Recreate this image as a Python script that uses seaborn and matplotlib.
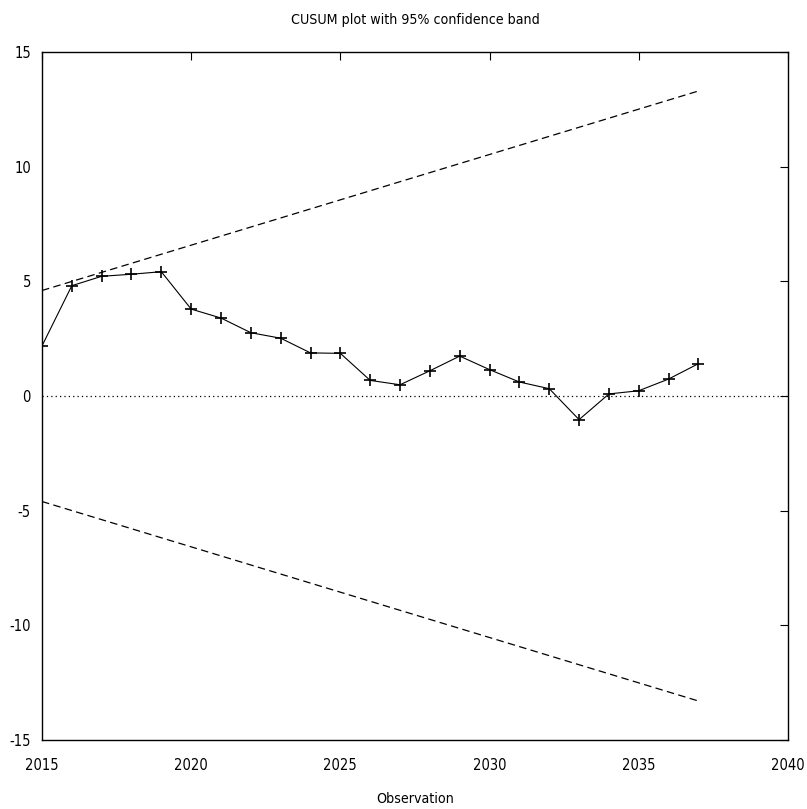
import numpy as np
import pandas as pd
import seaborn as sns
import matplotlib.pyplot as plt

# CUSUM values
years = list(range(2015, 2038))
cusum = [2.18, 4.81, 5.22, 5.31, 5.42, 3.79, 3.40, 2.76, 2.52, 1.88, 1.86,
         0.68, 0.49, 1.10, 1.74, 1.15, 0.61, 0.32, -1.03, 0.09, 0.23, 0.74, 1.41]

# 95% band end points
band_years = [2015, 2037]
band_upper = [4.6, 13.3]
band_lower = [-4.6, -13.3]

sns.set_theme(style="white")
plt.rcParams['font.family'] = ['DejaVu Sans']
plt.rcParams['font.stretch'] = 'condensed'
plt.rcParams['axes.unicode_minus'] = False
plt.rcParams['text.color'] = 'black'
plt.rcParams['axes.labelcolor'] = 'black'

df = pd.DataFrame({'Observation': years, 'CUSUM': cusum})
band = pd.DataFrame({'Observation': band_years, 'upper': band_upper, 'lower': band_lower})

fig = plt.figure(figsize=(8.07, 8.09), dpi=100)
ax = fig.add_axes([0.052, 0.0853, 0.9244, 0.8504])

sns.lineplot(data=df, x='Observation', y='CUSUM', ax=ax, color='black', linewidth=0.8,
             marker='+', markersize=9, markeredgewidth=1.2, markeredgecolor='black')
sns.lineplot(data=band, x='Observation', y='upper', ax=ax, color='black', linewidth=0.9,
             linestyle=(0, (6, 3.5)))
sns.lineplot(data=band, x='Observation', y='lower', ax=ax, color='black', linewidth=0.9,
             linestyle=(0, (6, 3.5)))
ax.axhline(0, color='black', linewidth=0.9, linestyle=(0, (1, 2.5)))

ax.set_xlim(2015, 2040)
ax.set_ylim(-15, 15)
ax.set_xticks(range(2015, 2041, 5))
ax.set_yticks(range(-15, 16, 5))
ax.tick_params(direction='in', length=6, width=0.8, top=True, right=True,
               labelsize=10.5, colors='black')
ax.tick_params(axis='x', pad=13)
ax.tick_params(axis='y', pad=8)
for s in ax.spines.values():
    s.set_color('black')
    s.set_linewidth(1.0)

ax.set_xlabel('Observation', fontsize=10.2)
ax.xaxis.set_label_coords(0.5, -0.075)
ax.set_ylabel('')
ax.set_title('CUSUM plot with 95% confidence band', fontsize=10.2, pad=20)

fig.savefig('out.png', dpi=100)
